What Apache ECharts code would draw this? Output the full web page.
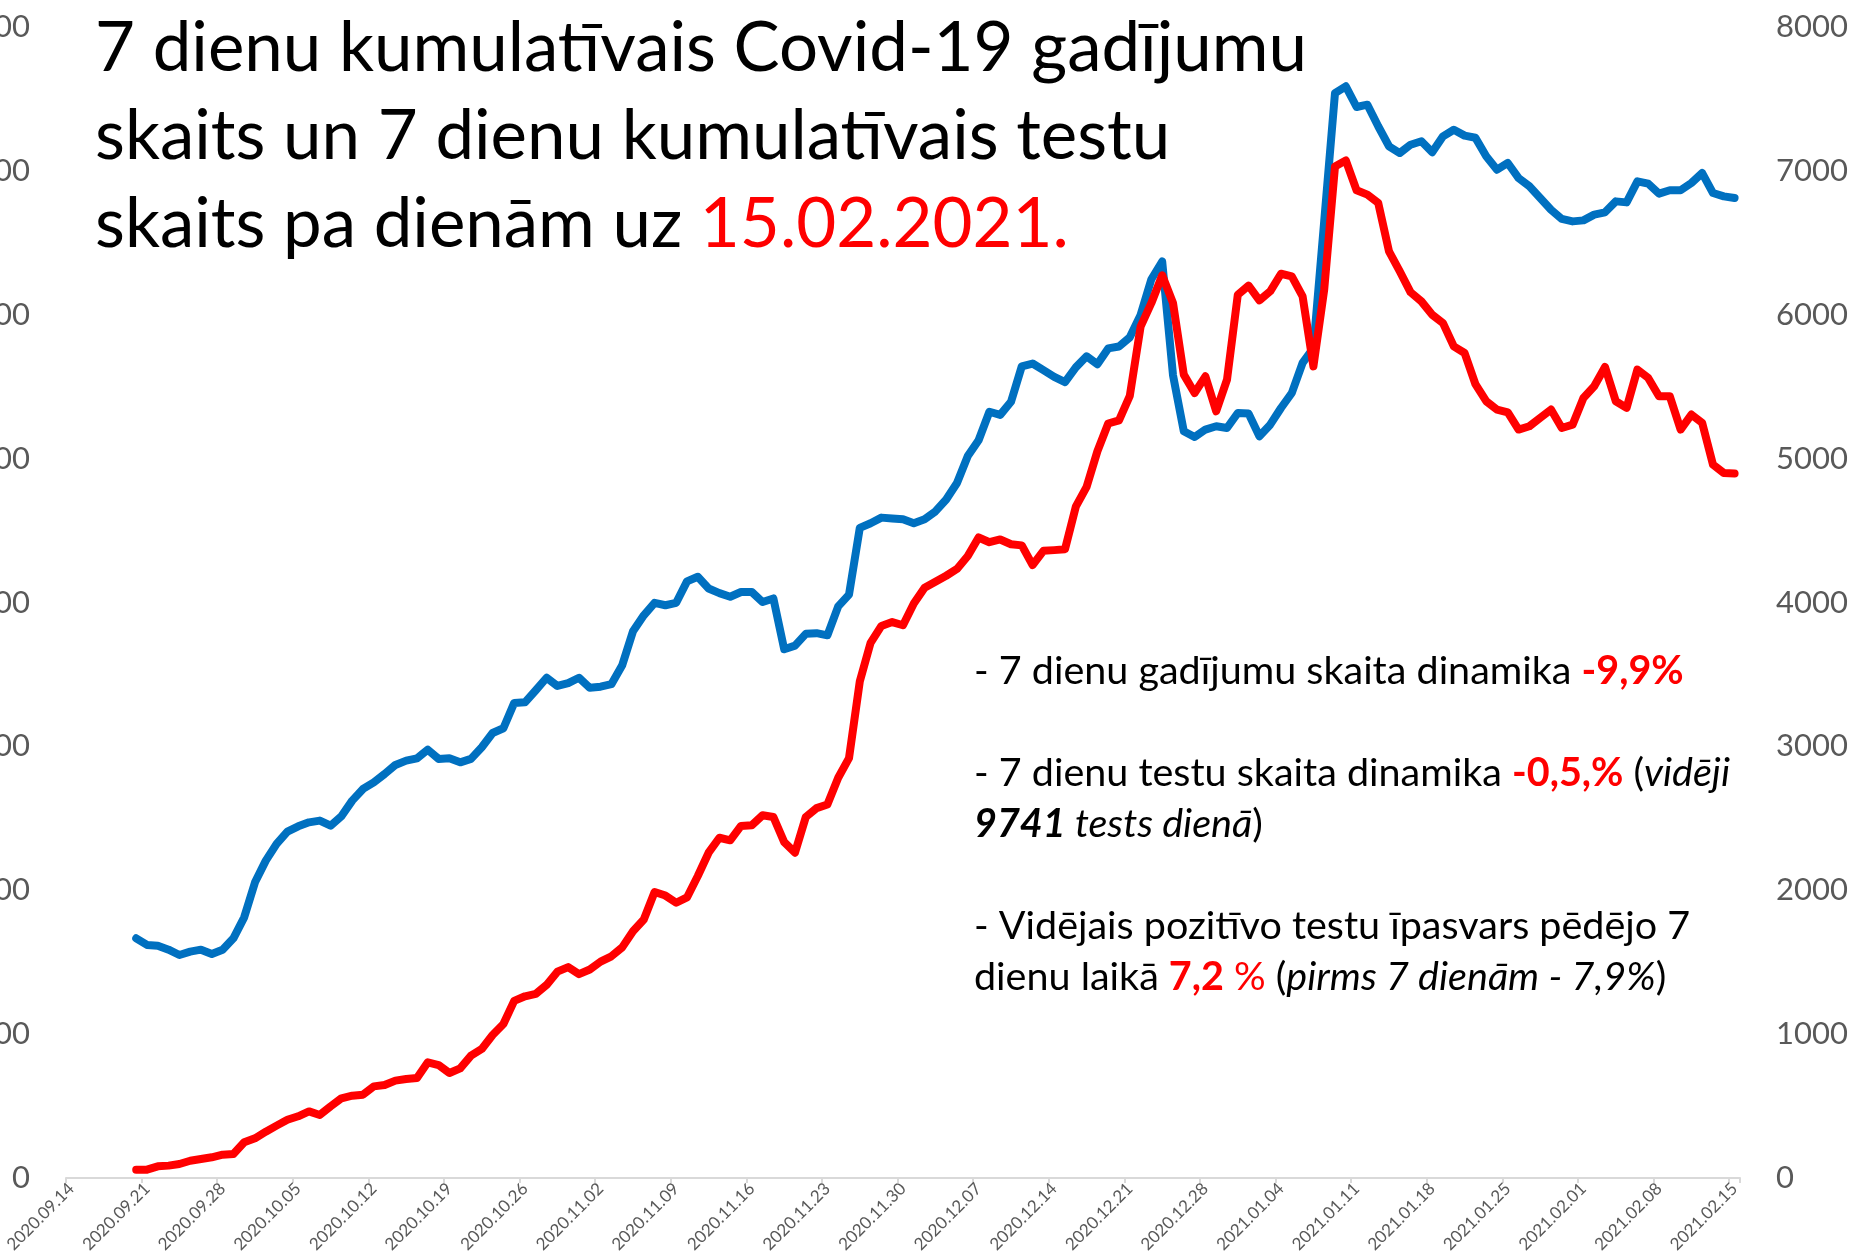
<!DOCTYPE html>
<html>
<head>
<meta charset="utf-8">
<title>Covid-19 7 dienu kumulatīvie rādītāji</title>
<script src="https://cdn.jsdelivr.net/npm/echarts@6/dist/echarts.min.js"></script>
<style>
  html, body { margin: 0; padding: 0; background: #fff; }
  #chart { width: 1849px; height: 1254px; }
</style>
</head>
<body>
<div id="chart"></div>
<script>
// x axis runs from 2020.09.14 to 2021.02.15, data begins 2020.09.20
const axisStart = '2020-09-14'
const axisDays = 155
const dataStart = '2020.09.20'

// 7 dienu kumulatīvais testu skaits (left axis)
const tests = [
  16660, 16200, 16150, 15870, 15500, 15730, 15870, 15570, 15870, 16660,
  18120, 20550, 22060, 23220, 24070, 24440, 24720, 24840, 24490, 25140,
  26230, 27040, 27500, 28080, 28710, 29010, 29170, 29770, 29130, 29170,
  28890, 29130, 29940, 30930, 31260, 33020, 33060, 33900, 34770, 34200,
  34400, 34770, 34070, 34150, 34320, 35640, 38000, 39110, 39980, 39810,
  39980, 41470, 41790, 40970, 40650, 40400, 40730, 40730, 40030, 40280,
  36750, 37000, 37820, 37870, 37720, 39730, 40550, 45190, 45510, 45900,
  45840, 45790, 45510, 45790, 46330, 47160, 48310, 50180, 51280, 53260,
  53040, 53950, 56420, 56610, 56150, 55680, 55320, 56340, 57110, 56560,
  57660, 57790, 58430, 59990, 62470, 63700, 55800, 51900, 51500, 52020,
  52250, 52130, 53170, 53130, 51550, 52360, 53520, 54560, 56650, 57690,
  66500, 75410, 75880, 74440, 74600, 73100, 71710, 71240, 71820, 72060,
  71290, 72400, 72860, 72450, 72300, 71010, 70080, 70550, 69500, 68930,
  68120, 67300, 66660, 66490, 66560, 66960, 67120, 67880, 67810, 69270,
  69110, 68420, 68650, 68650, 69160, 69850, 68460, 68230, 68120
]

// 7 dienu kumulatīvais Covid-19 gadījumu skaits (right axis)
const cases = [
  58, 58, 81, 86, 97, 120, 132, 144, 162, 167,
  248, 276, 322, 364, 405, 429, 463, 438, 498, 554,
  572, 579, 637, 646, 677, 688, 695, 804, 785, 730,
  762, 850, 897, 994, 1070, 1231, 1263, 1280, 1342, 1434,
  1466, 1417, 1449, 1504, 1541, 1603, 1715, 1797, 1988, 1963,
  1913, 1950, 2099, 2261, 2365, 2347, 2447, 2452, 2521, 2509,
  2335, 2261, 2509, 2571, 2596, 2782, 2918, 3452, 3720, 3837,
  3864, 3842, 3993, 4103, 4145, 4186, 4233, 4323, 4452, 4419,
  4438, 4405, 4397, 4260, 4359, 4364, 4370, 4666, 4804, 5051,
  5244, 5266, 5436, 5917, 6082, 6274, 6082, 5584, 5456, 5572,
  5329, 5549, 6139, 6202, 6100, 6163, 6285, 6267, 6128, 5641,
  6174, 7031, 7073, 6865, 6835, 6777, 6441, 6302, 6156, 6093,
  6000, 5942, 5780, 5734, 5518, 5399, 5341, 5322, 5202, 5225,
  5283, 5341, 5213, 5236, 5422, 5503, 5637, 5399, 5353, 5619,
  5561, 5433, 5433, 5202, 5306, 5248, 4958, 4900, 4896
]

const leftTicks = { min: 0, max: 80000, interval: 10000 }
const rightTicks = { min: 0, max: 8000, interval: 1000 }

const titleLines = [
  '7 dienu kumulatīvais Covid-19 gadījumu',
  'skaits un 7 dienu kumulatīvais testu',
  'skaits pa dienām uz {r|15.02.2021.}'
]

const noteLines = [
  '- 7 dienu gadījumu skaita dinamika {rb|-9,9%}',
  ' ',
  '- 7 dienu testu skaita dinamika {rb|-0,5,%} ({i|vidēji}',
  '{bi|9741}{i| tests dienā})',
  ' ',
  '- Vidējais pozitīvo testu īpasvars pēdējo 7',
  'dienu laikā {rb|7,2} {r|%} ({i|pirms 7 dienām - 7,9%})'
]

function pad2 (n) {
  return n < 10 ? '0' + n : '' + n
}

const dates = []
const d0 = new Date(axisStart + 'T00:00:00Z')
for (let i = 0; i < axisDays; i++) {
  const d = new Date(d0.getTime() + i * 86400000)
  dates.push(d.getUTCFullYear() + '.' + pad2(d.getUTCMonth() + 1) + '.' + pad2(d.getUTCDate()))
}
const offset = dates.indexOf(dataStart)
const lead = new Array(offset).fill(null)

const font = 'Lato'
const noteSize = 39.5
const noteLh = 51
const chart = echarts.init(document.getElementById('chart'))

chart.setOption({
  animation: false,
  backgroundColor: '#ffffff',
  title: {
    left: 90,
    top: 0,
    text: titleLines.join('\n'),
    textStyle: {
      color: '#000000',
      fontFamily: font,
      fontWeight: 'normal',
      fontSize: 69,
      lineHeight: 88,
      rich: {
        r: { color: '#ff0000', fontFamily: font, fontSize: 69, lineHeight: 88 }
      }
    }
  },
  grid: {
    left: 66,
    right: 109,
    top: 27,
    bottom: 76,
    containLabel: false,
    outerBoundsMode: 'none'
  },
  xAxis: {
    type: 'category',
    data: dates,
    boundaryGap: true,
    axisLine: { show: true, lineStyle: { color: '#d9d9d9', width: 2 } },
    axisTick: { show: true, interval: 6, length: 5, lineStyle: { color: '#d9d9d9', width: 2 } },
    axisLabel: {
      interval: 6,
      rotate: 45,
      margin: 8,
      color: '#595959',
      fontFamily: font,
      fontSize: 17
    },
    splitLine: { show: false }
  },
  yAxis: [
    {
      type: 'value',
      min: leftTicks.min,
      max: leftTicks.max,
      interval: leftTicks.interval,
      axisLine: { show: false },
      axisTick: { show: false },
      splitLine: { show: false },
      axisLabel: {
        margin: 36,
        color: '#595959',
        fontFamily: font,
        fontSize: 31,
        formatter: v => String(v)
      }
    },
    {
      type: 'value',
      position: 'right',
      min: rightTicks.min,
      max: rightTicks.max,
      interval: rightTicks.interval,
      axisLine: { show: false },
      axisTick: { show: false },
      splitLine: { show: false },
      axisLabel: {
        margin: 36,
        color: '#595959',
        fontFamily: font,
        fontSize: 31,
        formatter: v => String(v)
      }
    }
  ],
  series: [
    {
      name: 'Testi',
      type: 'line',
      yAxisIndex: 0,
      data: lead.concat(tests),
      showSymbol: false,
      symbol: 'none',
      smooth: false,
      lineStyle: { color: '#0070c0', width: 8, cap: 'round', join: 'round' },
      itemStyle: { color: '#0070c0' }
    },
    {
      name: 'Gadījumi',
      type: 'line',
      yAxisIndex: 1,
      data: lead.concat(cases),
      showSymbol: false,
      symbol: 'none',
      smooth: false,
      lineStyle: { color: '#ff0000', width: 8, cap: 'round', join: 'round' },
      itemStyle: { color: '#ff0000' }
    }
  ],
  graphic: [
    {
      type: 'text',
      left: 974,
      top: 646,
      style: {
        text: noteLines.join('\n'),
        fill: '#000000',
        fontFamily: font,
        fontSize: noteSize,
        lineHeight: noteLh,
        rich: {
          rb: { fill: '#ff0000', fontWeight: 'bold', fontFamily: font, fontSize: noteSize, lineHeight: noteLh },
          r: { fill: '#ff0000', fontFamily: font, fontSize: noteSize, lineHeight: noteLh },
          i: { fontStyle: 'italic', fontFamily: font, fontSize: noteSize, lineHeight: noteLh },
          bi: { fontStyle: 'italic', fontWeight: 'bold', fontFamily: font, fontSize: noteSize, lineHeight: noteLh }
        }
      }
    }
  ]
})
</script>
</body>
</html>
